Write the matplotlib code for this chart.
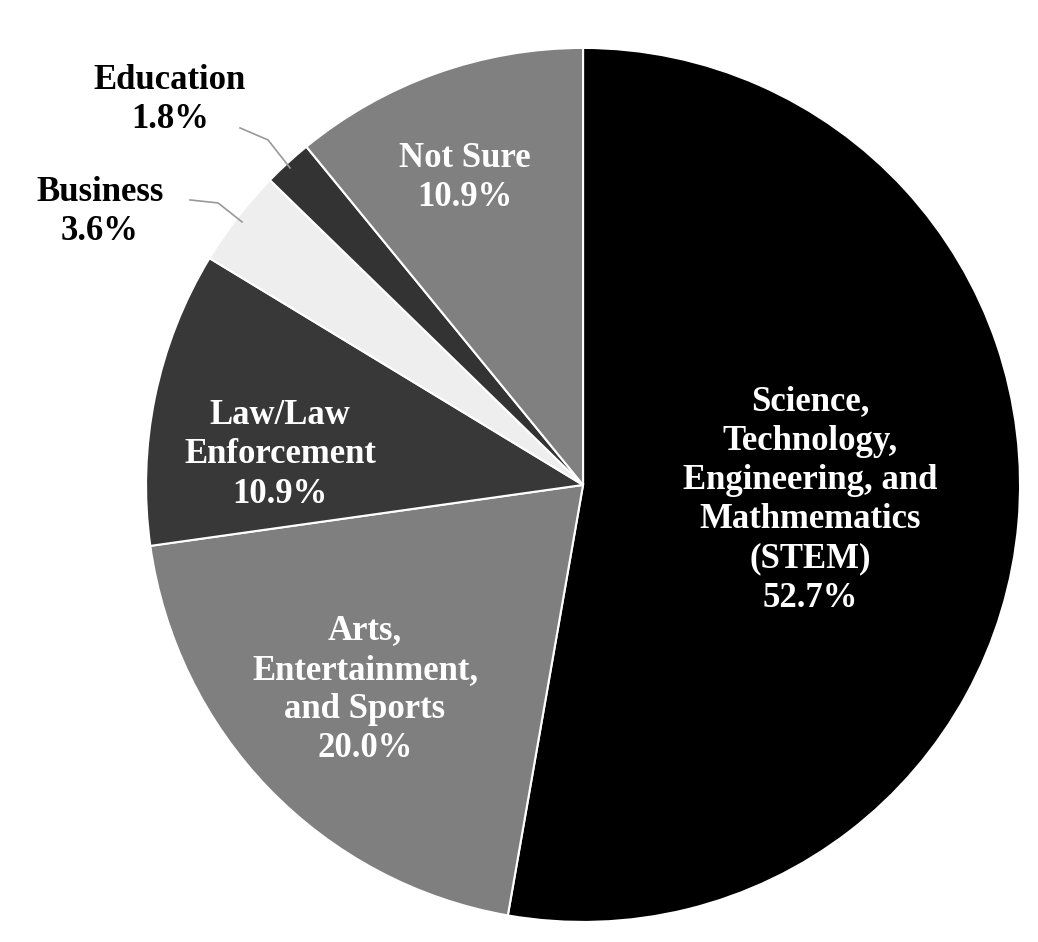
import matplotlib.pyplot as plt

categories = ['Science,\nTechnology,\nEngineering, and\nMathmematics\n(STEM)',
              'Arts,\nEntertainment,\nand Sports', 'Law/Law\nEnforcement',
              'Business', 'Education', 'Not Sure']
shares = [52.7, 20.0, 10.9, 3.6, 1.8, 10.9]
colors = ['#000000', '#7f7f7f', '#383838', '#eeeeee', '#333333', '#808080']

plt.rcParams['font.family'] = 'Liberation Serif'
fig = plt.figure(figsize=(10.38, 9.42), dpi=100)
ax = fig.add_axes([0.1407, 0.0212, 0.842, 0.928])
ax.pie(shares, colors=colors, startangle=90, counterclock=False,
       wedgeprops=dict(edgecolor='white', linewidth=1.5))
ax.set_xlim(-1, 1)
ax.set_ylim(-1, 1)

R = 437.0
cx, cy = 583.0, 485.0


def px(x, y):
    return (x - cx) / R, (cy - y) / R


# inside labels (pixel anchor, colour)
inside = {0: (810, 500), 1: (365, 690), 2: (280, 455), 5: (465, 178)}
for i, (x, y) in inside.items():
    ax.text(*px(x, y), f'{categories[i]}\n{shares[i]:.1f}%', ha='center',
            va='center', color='white', fontsize=25, fontweight='bold',
            linespacing=1.25)

# outside labels with leader lines
ax.text(*px(170, 100), f'{categories[4]}\n{shares[4]:.1f}%', ha='center',
        va='center', fontsize=25, fontweight='bold', linespacing=1.25)
ax.text(*px(100, 212), f'{categories[3]}\n{shares[3]:.1f}%', ha='center',
        va='center', fontsize=25, fontweight='bold', linespacing=1.25)
for pts in [[(240, 128), (268, 140), (290, 168)],
            [(190, 200), (218, 203), (242, 222)]]:
    xs, ys = zip(*[px(x, y) for x, y in pts])
    ax.plot(xs, ys, color='#999999', lw=1.2)

fig.savefig('out.png', dpi=100)
